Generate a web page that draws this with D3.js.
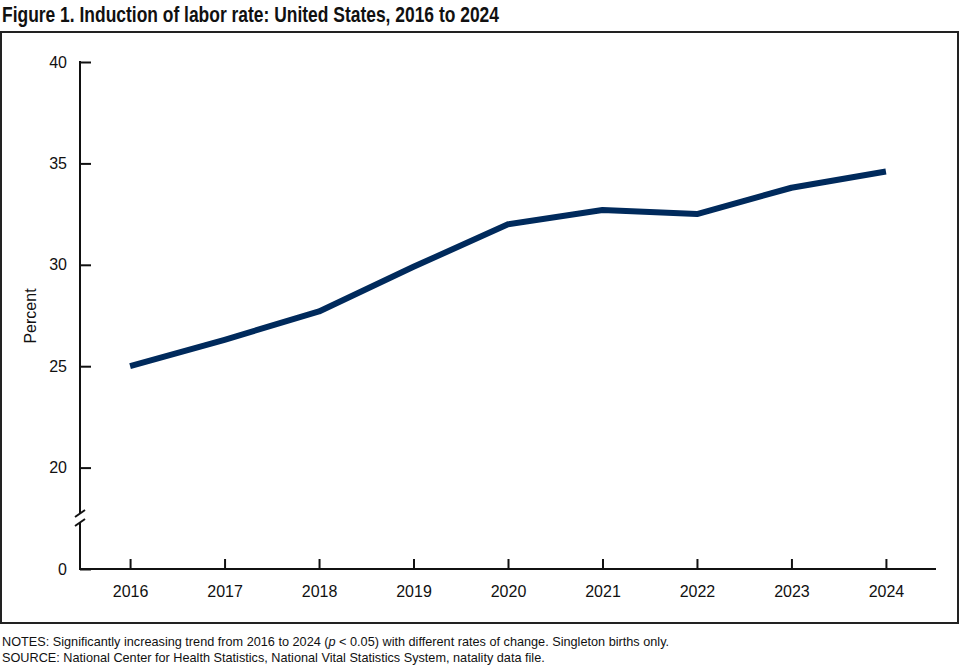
<!DOCTYPE html>
<html>
<head>
<meta charset="utf-8">
<script src="https://cdnjs.cloudflare.com/ajax/libs/d3/7.8.5/d3.min.js"></script>
<style>
  body { margin: 0; background: #fff; }
  svg { display: block; font-family: "Liberation Sans", Arial, sans-serif; }
</style>
</head>
<body>
<div id="chart"></div>
<script>
// data
const years = ["2016", "2017", "2018", "2019", "2020", "2021", "2022", "2023", "2024"];
const rates = [25.0, 26.3, 27.7, 29.9, 32.0, 32.7, 32.5, 33.8, 34.6];
const yTicks = [15, 20, 25, 30, 35, 40]; // 15 sits below the break and is labelled 0

const title = "Figure 1. Induction of labor rate: United States, 2016 to 2024";
const source = "SOURCE: National Center for Health Statistics, National Vital Statistics System, natality data file.";

const width = 960, height = 665;

const svg = d3.select("#chart").append("svg")
    .attr("width", width)
    .attr("height", height);

// title (narrow bold face isn't installed, so squeeze it)
svg.append("text")
    .attr("x", 2)
    .attr("y", 22)
    .attr("font-weight", "bold")
    .attr("font-size", 22.5)
    .attr("fill", "#111")
    .attr("textLength", 497)
    .attr("lengthAdjust", "spacingAndGlyphs")
    .text(title);

// frame round the plot
svg.append("rect")
    .attr("x", 1)
    .attr("y", 32)
    .attr("width", 957)
    .attr("height", 591)
    .attr("fill", "none")
    .attr("stroke", "#222")
    .attr("stroke-width", 2);

// scales
const x = d3.scalePoint()
    .domain(years)
    .range([80, 936])
    .padding(0.53);

const y = d3.scaleLinear()
    .domain([15, 40])
    .range([569, 62]);

// y axis ticks + labels (domain line drawn by hand for the break)
const yAxis = svg.append("g")
    .attr("transform", "translate(80,0)")
    .call(d3.axisLeft(y)
        .tickValues(yTicks)
        .tickSize(-11)
        .tickPadding(13)
        .tickFormat(d => d === 15 ? "0" : d));
yAxis.select(".domain").remove();
yAxis.selectAll(".tick line").attr("stroke", "#111").attr("stroke-width", 2);
yAxis.selectAll(".tick text")
    .attr("font-size", 16)
    .attr("font-family", "'Liberation Sans', Arial, sans-serif")
    .attr("fill", "#111");

// axis line with break
const breakTop = 514, breakBot = 523;
svg.append("line")
    .attr("x1", 80).attr("x2", 80)
    .attr("y1", y(40) - 1).attr("y2", breakTop)
    .attr("stroke", "#111").attr("stroke-width", 2);
svg.append("line")
    .attr("x1", 80).attr("x2", 80)
    .attr("y1", breakBot).attr("y2", y(15))
    .attr("stroke", "#111").attr("stroke-width", 2);
[breakTop, breakBot].forEach(function (b) {
    svg.append("line")
        .attr("x1", 75).attr("x2", 85)
        .attr("y1", b + 3).attr("y2", b - 4)
        .attr("stroke", "#111").attr("stroke-width", 2);
});

// x axis
const xAxis = svg.append("g")
    .attr("transform", "translate(0," + y(15) + ")")
    .call(d3.axisBottom(x)
        .tickSize(-10)
        .tickSizeOuter(0)
        .tickPadding(17));
xAxis.select(".domain").attr("stroke", "#111").attr("stroke-width", 2)
    .attr("d", "M79,0H936");
xAxis.selectAll(".tick line").attr("stroke", "#111").attr("stroke-width", 2);
xAxis.selectAll(".tick text")
    .attr("font-size", 16)
    .attr("font-family", "'Liberation Sans', Arial, sans-serif")
    .attr("fill", "#111");

// y axis title
svg.append("text")
    .attr("transform", "translate(36,316) rotate(-90)")
    .attr("text-anchor", "middle")
    .attr("font-size", 16)
    .attr("fill", "#111")
    .text("Percent");

// the line
const line = d3.line()
    .x((d, i) => x(years[i]))
    .y(d => y(d));

svg.append("path")
    .datum(rates)
    .attr("d", line)
    .attr("fill", "none")
    .attr("stroke", "#002a5c")
    .attr("stroke-width", 6)
    .attr("stroke-linejoin", "round");

// notes
const notes = svg.append("text")
    .attr("x", 2)
    .attr("y", 646)
    .attr("font-size", 12.7)
    .attr("fill", "#111");
notes.append("tspan").text("NOTES: Significantly increasing trend from 2016 to 2024 (");
notes.append("tspan").attr("font-style", "italic").text("p");
notes.append("tspan").text(" < 0.05) with different rates of change. Singleton births only.");

svg.append("text")
    .attr("x", 2)
    .attr("y", 662)
    .attr("font-size", 12.7)
    .attr("fill", "#111")
    .text(source);
</script>
</body>
</html>
